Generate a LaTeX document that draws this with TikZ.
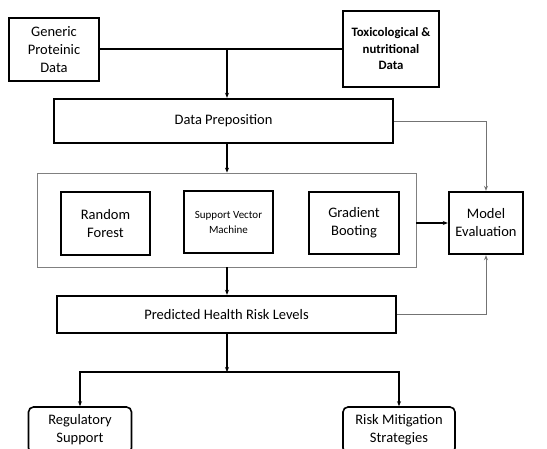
\documentclass[tikz,border=0pt]{standalone}
\usepackage{fontspec}
\setmainfont{Carlito}
\usetikzlibrary{arrows.meta}
\tikzset{
  box/.style={rectangle, draw=black, line width=2.4pt, align=center, font=\fontsize{14.5}{18}\selectfont},
  endbox/.style={rectangle, rounded corners=5pt, draw=black, line width=1.6pt, align=center, font=\fontsize{14.5}{18}\selectfont},
  arr/.style={-{Stealth[length=5pt,width=4pt]}, line width=1.2pt},
  fb/.style={-{Stealth[length=5pt,width=4pt]}, line width=1pt, draw=black!55}
}
\begin{document}
\begin{tikzpicture}[x=1pt, y=-1pt]
\useasboundingbox (0,0) rectangle (547,448);
\clip (0,0) rectangle (547,448);
% inputs
\node [box, minimum width=90pt, minimum height=63pt] (gen) at (54,49.5) {Generic\\Proteinic\\Data};
\node [box, minimum width=96pt, minimum height=76pt, font=\fontsize{12.8}{16.5}\selectfont\bfseries] (tox) at (391,49) {Toxicological \&\\nutritional\\Data};
\node [box, minimum width=339pt, minimum height=44pt] (prep) at (223.5,121) {Data Preposition};
% models
\node [rectangle, draw=black!50, line width=0.8pt, minimum width=379pt, minimum height=94pt] (models) at (226.5,220) {};
\node [box, minimum width=89pt, minimum height=63pt] (rf) at (105.5,223.5) {Random\\Forest};
\node [box, minimum width=89pt, minimum height=62pt, font=\fontsize{11}{15}\selectfont] (svm) at (228.5,222) {Support Vector\\Machine};
\node [box, minimum width=90pt, minimum height=62pt] (gb) at (354,223) {Gradient\\Booting};
\node [box, minimum width=74pt, minimum height=62pt] (eval) at (486,223) {Model\\Evaluation};
\node [box, minimum width=339pt, minimum height=37pt] (pred) at (226.5,314.5) {Predicted Health Risk Levels};
% outputs
\node [endbox, minimum width=103pt, minimum height=46pt] (reg) at (80,430) {Regulatory\\Support};
\node [endbox, minimum width=112pt, minimum height=46pt] (risk) at (399,430) {Risk Mitigation\\Strategies};
\coordinate (top) at (227,49);
\coordinate (split) at (227,372);
\draw [line width=1.2pt] (gen.east |- top) -- (tox.west |- top);
\draw [arr] (top) -- (top |- prep.north);
\draw [arr] (top |- prep.south) -- (top |- models.north);
\draw [arr] (top |- models.south) -- (top |- pred.north);
\draw [arr] (models.east |- eval.west) -- (eval.west);
\draw [fb] (prep.east) -- (prep.east -| eval.north) -- (eval.north);
\draw [fb] (pred.east) -- (pred.east -| eval.south) -- (eval.south);
\draw [arr] (top |- pred.south) -- (split);
\draw [arr] (split) -- (split -| reg.north) -- (reg.north);
\draw [arr] (split) -- (split -| risk.north) -- (risk.north);
\end{tikzpicture}
\end{document}
